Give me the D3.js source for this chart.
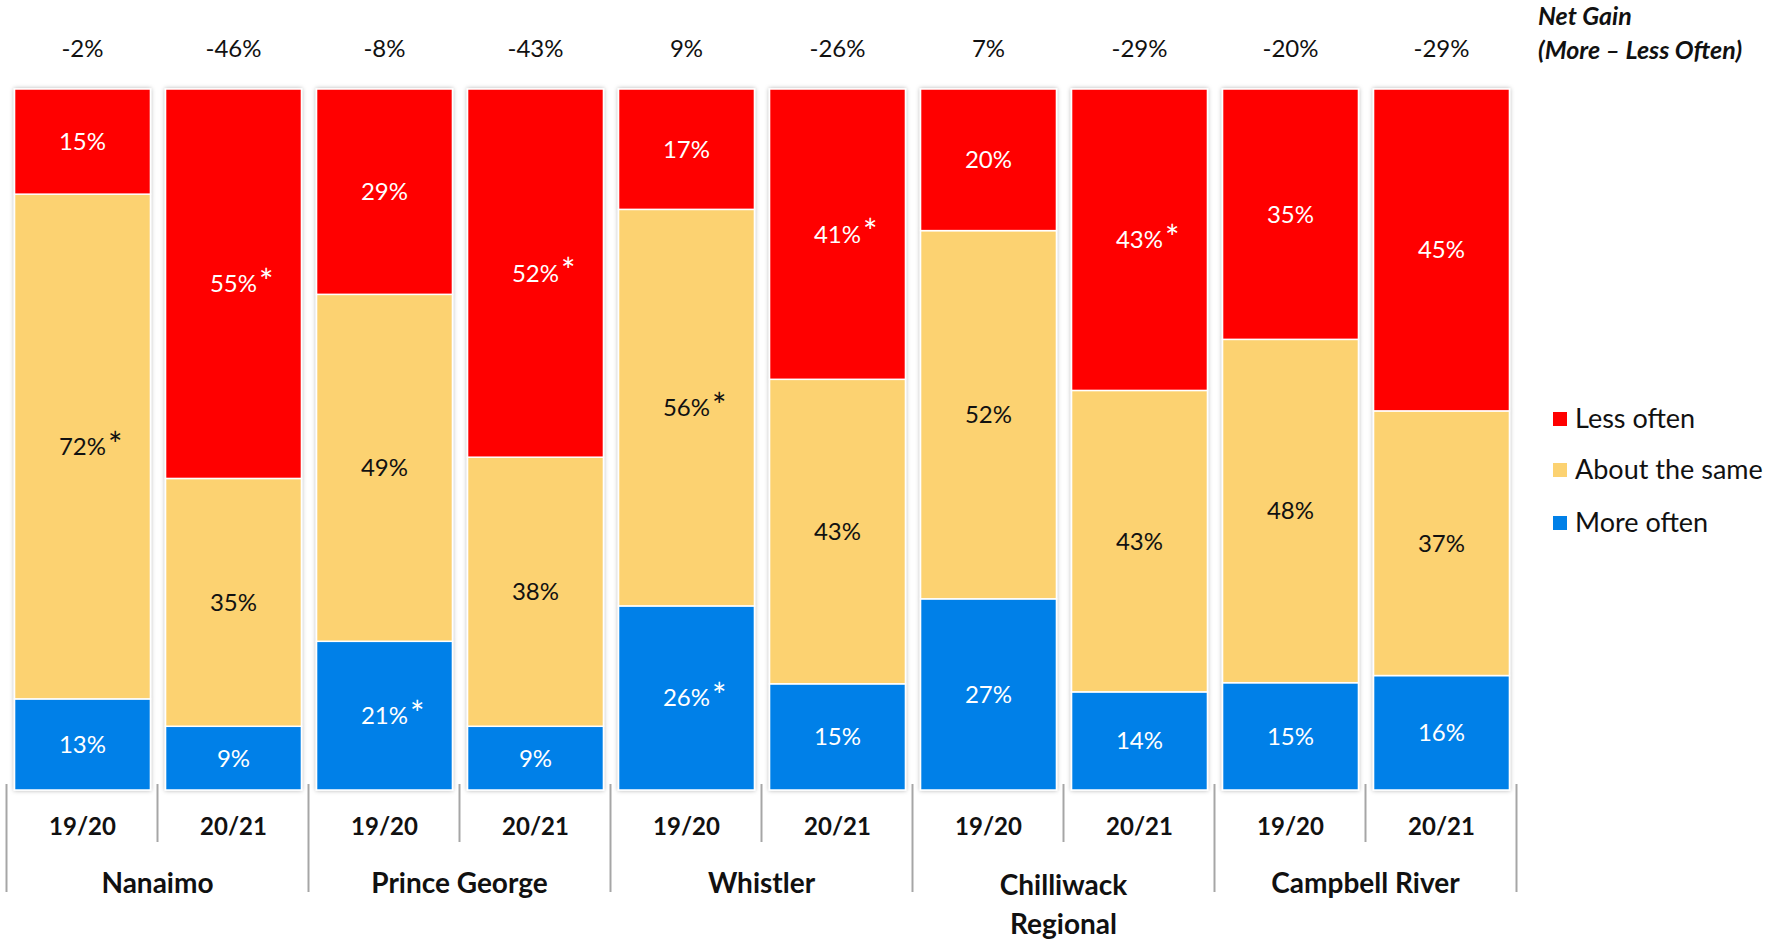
<!DOCTYPE html>
<html>
<head>
<meta charset="utf-8">
<script src="https://cdn.jsdelivr.net/npm/d3@7"></script>
<style>
  html, body { margin: 0; padding: 0; background: #fff; }
  svg { display: block; font-family: Lato, "Open Sans", sans-serif; }
</style>
</head>
<body>
<svg id="chart"></svg>
<script>
// data
const regions = ["Nanaimo", "Prince George", "Whistler", "Chilliwack Regional", "Campbell River"];
const regionLines = [["Nanaimo"], ["Prince George"], ["Whistler"], ["Chilliwack", "Regional"], ["Campbell River"]];
const years = ["19/20", "20/21"];
const moreOften = [13, 9, 21, 9, 26, 15, 27, 14, 15, 16];
const aboutSame = [72, 35, 49, 38, 56, 43, 52, 43, 48, 37];
const lessOften = [15, 55, 29, 52, 17, 41, 20, 43, 35, 45];
const netGain = [-2, -46, -8, -43, 9, -26, 7, -29, -20, -29];
// significance markers (*)
const moreStar = [0, 0, 1, 0, 1, 0, 0, 0, 0, 0];
const sameStar = [1, 0, 0, 0, 1, 0, 0, 0, 0, 0];
const lessStar = [0, 1, 0, 1, 0, 1, 0, 1, 0, 0];

const seriesKeys = ["more", "same", "less"];
const seriesNames = { more: "More often", same: "About the same", less: "Less often" };
const colors = { more: "#0080E8", same: "#FCD271", less: "#FF0000" };
const labelColors = { more: "#fff", same: "#111", less: "#fff" };
const stars = { more: moreStar, same: sameStar, less: lessStar };

const width = 1782, height = 941;
const svg = d3.select("#chart").attr("width", width).attr("height", height);

const rows = [];
regions.forEach((r, i) => {
  years.forEach((yr, j) => {
    const k = i * 2 + j;
    rows.push({ id: k, region: r, year: yr, more: moreOften[k], same: aboutSame[k], less: lessOften[k], net: netGain[k] });
  });
});

const x = d3.scaleBand()
  .domain(rows.map(d => d.id))
  .range([7, 1517])
  .paddingInner(0.1)
  .paddingOuter(0.05);

const y = d3.scaleLinear().domain([0, 1]).range([790, 89]);

const stack = d3.stack().keys(seriesKeys).offset(d3.stackOffsetExpand);
const layers = stack(rows);

// soft shadow like the office chart
const defs = svg.append("defs");
const f = defs.append("filter").attr("id", "shadow").attr("x", "-10%").attr("y", "-5%").attr("width", "120%").attr("height", "110%");
f.append("feDropShadow").attr("dx", 0).attr("dy", 0).attr("stdDeviation", 2)
  .attr("flood-color", "#000").attr("flood-opacity", 0.3);

const barsG = svg.append("g").attr("filter", "url(#shadow)");

barsG.selectAll("g.layer")
  .data(layers)
  .join("g")
  .attr("class", "layer")
  .attr("fill", d => colors[d.key])
  .selectAll("rect")
  .data(d => d)
  .join("rect")
  .attr("x", d => x(d.data.id))
  .attr("width", x.bandwidth())
  .attr("y", d => y(d[1]))
  .attr("height", d => y(d[0]) - y(d[1]))
  .attr("stroke", "#fff")
  .attr("stroke-width", 1.5);

// segment labels
const labelG = svg.append("g").attr("text-anchor", "middle").style("font-size", "24px");
layers.forEach(layer => {
  layer.forEach(d => {
    const cx = x(d.data.id) + x.bandwidth() / 2;
    const cy = (y(d[0]) + y(d[1])) / 2;
    const t = labelG.append("text")
      .attr("x", cx)
      .attr("y", cy)
      .attr("dy", "0.35em")
      .attr("fill", labelColors[layer.key])
      .text(d.data[layer.key] + "%");
    if (stars[layer.key][d.data.id]) {
      const w = t.node().getComputedTextLength();
      labelG.append("text")
        .attr("x", cx + w / 2 + 2)
        .attr("y", cy + 10)
        .attr("text-anchor", "start")
        .attr("fill", labelColors[layer.key])
        .style("font-size", "34px")
        .text("*");
    }
  });
});

// net gain row
svg.append("g")
  .attr("text-anchor", "middle")
  .style("font-size", "24px")
  .selectAll("text")
  .data(rows)
  .join("text")
  .attr("x", d => x(d.id) + x.bandwidth() / 2)
  .attr("y", 49)
  .attr("dy", "0.35em")
  .attr("fill", "#111")
  .text(d => d.net + "%");

const ng = svg.append("text")
  .attr("x", 1538)
  .attr("y", 25)
  .style("font-size", "25px")
  .style("font-weight", "bold")
  .style("font-style", "italic")
  .attr("fill", "#111");
ng.append("tspan").attr("x", 1538).text("Net Gain");
ng.append("tspan").attr("x", 1538).attr("dy", 34).text("(More \u2013 Less Often)");

// category axis
const axisG = svg.append("g").attr("stroke", "#a6a6a6").attr("stroke-width", 2);
const step = x.step();
const left = x(0) - x.paddingInner() * step / 2 - 0.5;
axisG.append("line").attr("x1", left).attr("x2", left + step * rows.length).attr("y1", 790).attr("y2", 790)
  .attr("filter", "url(#shadow)");
d3.range(rows.length + 1).forEach(i => {
  const xx = left + i * step;
  axisG.append("line")
    .attr("x1", xx).attr("x2", xx)
    .attr("y1", 784)
    .attr("y2", i % 2 === 0 ? 892 : 842);
});

svg.append("g")
  .attr("text-anchor", "middle")
  .style("font-size", "24px")
  .style("font-weight", "bold")
  .selectAll("text")
  .data(rows)
  .join("text")
  .attr("x", d => x(d.id) + x.bandwidth() / 2)
  .attr("y", 827)
  .attr("dy", "0.35em")
  .attr("fill", "#111")
  .text(d => d.year);

const grp = svg.append("g")
  .attr("text-anchor", "middle")
  .style("font-size", "28px")
  .style("font-weight", "bold")
  .selectAll("text")
  .data(regionLines)
  .join("text")
  .attr("x", (d, i) => left + (i * 2 + 1) * step)
  .attr("y", (d, i) => d.length > 1 ? 895 : 893)
  .attr("dy", "0.35em")
  .attr("fill", "#111");
grp.selectAll("tspan")
  .data(d => d)
  .join("tspan")
  .attr("x", function () { return d3.select(this.parentNode).attr("x"); })
  .attr("dy", (d, i) => i === 0 ? 0 : 39)
  .text(d => d);

// legend
const legendKeys = ["less", "same", "more"];
const legendY = [419, 470, 523];
const lg = svg.append("g");
legendKeys.forEach((k, i) => {
  lg.append("rect")
    .attr("x", 1553).attr("y", legendY[i] - 7)
    .attr("width", 14).attr("height", 14)
    .attr("fill", colors[k]);
  lg.append("text")
    .attr("x", 1575).attr("y", legendY[i])
    .attr("dy", "0.35em")
    .style("font-size", "27px")
    .attr("fill", "#111")
    .text(seriesNames[k]);
});
</script>
</body>
</html>
